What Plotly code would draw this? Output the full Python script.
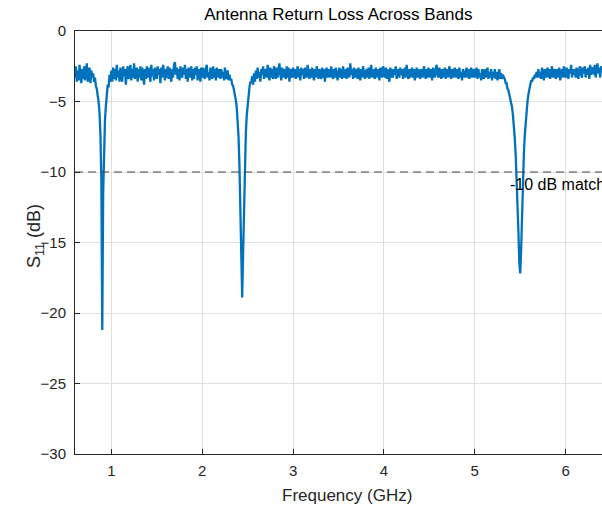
import numpy as np
import plotly.graph_objects as go

# Frequency grid (GHz), 0.01 GHz step
F_START = 0.60
F_STEP = 0.01
# S11 (dB), one row per 0.1 GHz
s11_rows = [
    [-3.3, -2.5, -3.6, -2.8, -3.5, -2.4, -3.1, -3.7, -2.7, -3.4],  # 0.6
    [-2.5, -3.5, -2.9, -2.3, -3.6, -3.2, -2.6, -3.7, -2.8, -3.3],  # 0.7
    [-3.0, -3.6, -3.3, -3.9, -4.1, -4.6, -5.0, -5.8, -7.4, -10.5],  # 0.8
    [-21.2, -11.5, -8.0, -6.3, -5.3, -4.6, -3.8, -4.0, -3.1, -3.6],  # 0.9
    [-2.8, -3.6, -2.6, -3.4, -2.7, -3.5, -2.4, -3.3, -2.8, -3.6],  # 1.0
    [-2.6, -3.1, -3.6, -2.5, -3.2, -2.7, -3.8, -2.9, -2.5, -3.4],  # 1.1
    [-3.1, -2.4, -3.5, -2.7, -3.3, -2.3, -3.4, -2.9, -2.6, -3.6],  # 1.2
    [-2.7, -3.3, -2.5, -3.5, -2.6, -3.1, -3.8, -2.7, -3.4, -2.5],  # 1.3
    [-3.3, -2.6, -3.1, -3.6, -2.4, -3.2, -2.7, -3.5, -2.6, -3.0],  # 1.4
    [-3.4, -2.5, -3.1, -2.7, -3.7, -2.6, -3.3, -2.4, -3.0, -3.5],  # 1.5
    [-2.7, -3.3, -2.5, -3.4, -2.6, -3.1, -3.6, -2.7, -3.3, -2.4],  # 1.6
    [-2.2, -3.1, -2.6, -3.4, -2.7, -3.5, -2.5, -3.1, -3.3, -2.6],  # 1.7
    [-3.1, -2.4, -3.4, -2.7, -3.6, -2.6, -3.1, -3.3, -2.5, -3.5],  # 1.8
    [-2.7, -3.4, -2.6, -3.1, -2.5, -3.5, -2.9, -2.7, -3.6, -2.6],  # 1.9
    [-3.3, -2.6, -3.1, -3.4, -2.7, -2.4, -3.3, -2.9, -3.5, -2.6],  # 2.0
    [-3.1, -3.4, -2.5, -3.3, -2.7, -3.5, -2.6, -3.1, -3.3, -2.7],  # 2.1
    [-3.4, -2.7, -3.3, -2.9, -3.5, -2.6, -3.3, -3.4, -2.8, -3.5],  # 2.2
    [-3.1, -3.5, -3.4, -3.8, -3.9, -4.2, -4.5, -4.9, -5.4, -6.2],  # 2.3
    [-7.5, -9.6, -12.8, -16.5, -18.9, -15.8, -11.9, -9.2, -7.3, -6.0],  # 2.4
    [-5.1, -4.5, -4.0, -3.6, -3.7, -3.2, -3.8, -3.0, -3.6, -2.8],  # 2.5
    [-3.4, -2.6, -3.3, -2.9, -3.6, -2.7, -3.1, -2.5, -3.4, -2.9],  # 2.6
    [-2.7, -3.3, -2.4, -3.1, -3.5, -2.6, -3.3, -2.7, -3.4, -2.5],  # 2.7
    [-3.1, -3.4, -2.6, -3.3, -2.7, -2.3, -3.1, -3.5, -2.6, -3.3],  # 2.8
    [-2.7, -3.1, -3.4, -2.5, -3.3, -2.6, -3.6, -2.9, -2.7, -3.3],  # 2.9
    [-2.6, -3.3, -2.7, -3.4, -2.9, -2.5, -3.3, -2.7, -3.5, -2.6],  # 3.0
    [-3.1, -2.7, -3.4, -2.6, -3.1, -3.3, -2.4, -3.0, -3.4, -2.7],  # 3.1
    [-3.3, -2.6, -3.1, -3.5, -2.7, -3.3, -2.5, -3.1, -3.4, -2.7],  # 3.2
    [-3.0, -3.4, -2.6, -3.3, -2.7, -3.6, -2.9, -2.6, -3.3, -2.9],  # 3.3
    [-2.7, -3.3, -2.5, -3.1, -3.4, -2.7, -3.3, -2.6, -3.0, -3.5],  # 3.4
    [-2.9, -2.6, -3.3, -2.7, -3.4, -2.5, -3.1, -3.3, -2.7, -3.4],  # 3.5
    [-2.6, -3.1, -3.3, -2.3, -3.1, -2.7, -3.4, -2.6, -3.3, -2.9],  # 3.6
    [-2.7, -3.4, -2.6, -3.1, -3.5, -2.7, -3.3, -2.5, -3.1, -3.4],  # 3.7
    [-2.9, -2.7, -3.3, -2.6, -3.4, -2.9, -2.4, -3.3, -2.7, -3.1],  # 3.8
    [-3.4, -2.6, -3.1, -3.3, -2.7, -3.5, -2.6, -3.0, -3.3, -2.5],  # 3.9
    [-3.0, -3.3, -2.6, -3.4, -2.7, -3.1, -3.6, -2.6, -3.3, -2.7],  # 4.0
    [-3.3, -2.7, -3.1, -2.5, -3.4, -2.9, -2.7, -3.3, -2.6, -3.1],  # 4.1
    [-2.7, -3.4, -2.9, -2.6, -3.3, -2.4, -3.1, -3.4, -2.7, -3.3],  # 4.2
    [-2.9, -2.6, -3.3, -2.7, -3.5, -3.0, -2.6, -3.3, -2.7, -3.1],  # 4.3
    [-3.4, -2.7, -3.1, -3.3, -2.5, -3.0, -3.4, -2.7, -3.3, -2.6],  # 4.4
    [-3.0, -3.3, -2.7, -3.5, -2.6, -3.1, -3.3, -2.7, -2.4, -3.1],  # 4.5
    [-3.3, -2.6, -3.0, -3.4, -2.7, -3.3, -2.9, -2.6, -3.4, -2.7],  # 4.6
    [-3.0, -3.3, -2.5, -3.1, -3.4, -2.7, -3.3, -2.9, -2.6, -3.3],  # 4.7
    [-2.7, -3.1, -3.4, -2.6, -3.3, -2.9, -3.5, -2.7, -3.0, -3.3],  # 4.8
    [-2.9, -2.6, -3.3, -2.7, -3.4, -3.0, -2.6, -3.3, -2.9, -2.7],  # 4.9
    [-3.3, -2.9, -2.6, -3.4, -2.7, -3.3, -3.0, -3.5, -2.7, -3.1],  # 5.0
    [-3.4, -2.7, -3.3, -2.9, -2.6, -3.4, -2.9, -3.3, -2.7, -3.5],  # 5.1
    [-2.9, -3.3, -2.7, -3.4, -2.9, -3.5, -3.1, -2.7, -3.4, -3.0],  # 5.2
    [-3.4, -3.1, -3.3, -3.4, -3.7, -3.7, -4.1, -4.2, -4.5, -4.8],  # 5.3
    [-5.0, -5.4, -6.0, -6.7, -7.6, -8.8, -10.3, -12.1, -14.2, -16.4],  # 5.4
    [-17.2, -15.5, -12.8, -10.4, -8.7, -7.4, -6.4, -5.6, -5.0, -4.5],  # 5.5
    [-4.1, -3.9, -3.5, -3.6, -3.3, -3.4, -3.1, -3.3, -2.9, -3.3],  # 5.6
    [-2.7, -3.3, -2.9, -3.4, -2.6, -3.1, -3.5, -2.7, -3.3, -2.9],  # 5.7
    [-2.6, -3.3, -2.7, -3.4, -2.9, -2.5, -3.3, -2.9, -2.7, -3.4],  # 5.8
    [-2.9, -2.7, -3.3, -2.6, -3.5, -2.9, -2.7, -3.3, -2.5, -3.1],  # 5.9
    [-3.3, -2.6, -3.1, -3.4, -2.7, -3.0, -2.4, -3.3, -2.7, -3.1],  # 6.0
    [-2.7, -3.3, -2.6, -3.1, -3.4, -2.7, -2.5, -3.1, -3.3, -2.6],  # 6.1
    [-3.0, -2.5, -3.3, -2.7, -3.1, -2.6, -3.4, -2.4, -3.1, -2.7],  # 6.2
    [-2.6, -3.1, -2.4, -3.3, -2.7, -2.3, -3.0, -2.6, -3.3, -2.5],  # 6.3
    [-2.8],  # 6.4
]
threshold_db = -10
threshold_label = "-10 dB match"
label_freq = 5.36
label_db = -10.9
x_tick_vals = [1, 2, 3, 4, 5, 6]
y_tick_vals = [0, -5, -10, -15, -20, -25, -30]

s11 = [v for row in s11_rows for v in row]
freq = [round(F_START + i * F_STEP, 2) for i in range(len(s11))]

FONT = "Liberation Sans, Arial, Helvetica, sans-serif"
AX = "#262626"
GRID = "#dfdfdf"
W, H = 602, 508
ML, MR, MT, MB = 75, 0, 31, 54
PW, PH = W - ML - MR, H - MT - MB

fig = go.Figure()
fig.add_trace(go.Scatter(
    x=freq, y=s11, mode="lines",
    line=dict(color="#0072BD", width=2.3),
    showlegend=False, hoverinfo="skip",
))
fig.add_trace(go.Scatter(
    x=[freq[0], freq[-1]], y=[threshold_db, threshold_db], mode="lines",
    line=dict(color="#333333", width=0.9, dash="8px,5px"),
    showlegend=False, hoverinfo="skip",
))
fig.add_annotation(
    x=label_freq, y=label_db, text=threshold_label, showarrow=False,
    xanchor="left", yanchor="middle",
    font=dict(family=FONT, size=16, color="#000000"),
)
# axis titles
fig.add_annotation(
    xref="paper", yref="paper", x=(347 - ML) / PW, y=-(495 - (H - MB)) / PH,
    text="Frequency (GHz)", showarrow=False, xanchor="center", yanchor="middle",
    font=dict(family=FONT, size=17, color=AX),
)
fig.add_annotation(
    xref="paper", yref="paper", x=-(ML - 35) / PW, y=(H - MB - 236) / PH,
    text="S<sub>11</sub> (dB)", showarrow=False, xanchor="center", yanchor="middle",
    textangle=-90, font=dict(family=FONT, size=18, color=AX),
)

fig.update_layout(
    width=W, height=H,
    margin=dict(l=ML, r=MR, t=MT, b=MB),
    paper_bgcolor="white", plot_bgcolor="white",
    title=dict(text="Antenna Return Loss Across Bands", x=0.562, xanchor="center",
               y=1 - 14 / H, yanchor="middle",
               font=dict(family=FONT, size=17, color="#000000")),
    font=dict(family=FONT, size=15, color=AX),
)
fig.update_xaxes(
    range=[freq[0], freq[-1]], tickvals=x_tick_vals,
    showgrid=True, gridcolor=GRID, gridwidth=1,
    showline=True, linecolor=AX, linewidth=1, mirror=True,
    ticks="inside", ticklen=5, tickcolor=AX, zeroline=False,
    ticklabelstandoff=3,
    tickfont=dict(family=FONT, size=15, color=AX),
)
fig.update_yaxes(
    range=[-30, 0], tickvals=y_tick_vals,
    showgrid=True, gridcolor=GRID, gridwidth=1,
    showline=True, linecolor=AX, linewidth=1, mirror=True,
    ticks="inside", ticklen=5, tickcolor=AX, zeroline=False,
    ticklabelstandoff=5,
    tickfont=dict(family=FONT, size=15, color=AX),
)

fig.write_html("out.html")
